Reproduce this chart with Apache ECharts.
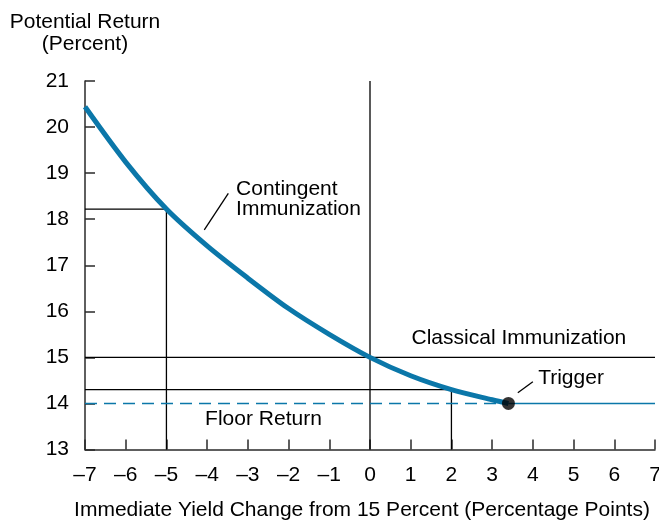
<!DOCTYPE html>
<html>
<head>
<meta charset="utf-8">
<script src="https://cdn.jsdelivr.net/npm/echarts@6/dist/echarts.min.js"></script>
<style>
  html, body { margin: 0; padding: 0; background: #fff; }
  #chart { width: 659px; height: 520px; }
</style>
</head>
<body>
<div id="chart"></div>
<script>
// Potential return vs. immediate yield change (contingent immunization)
const xTicks = [-7, -6, -5, -4, -3, -2, -1, 0, 1, 2, 3, 4, 5, 6, 7];
const yTicks = [13, 14, 15, 16, 17, 18, 19, 20, 21];

// Contingent immunization curve (yield change, return %)
const curveX = [-7, -6, -5, -4, -3, -2, -1, 0, 1, 2, 3, 3.4];
const curveY = [20.44, 19.24, 18.22, 17.42, 16.72, 16.06, 15.5, 15.0, 14.6, 14.3, 14.08, 14.0];

// Key levels
const classicalReturn = 15;
const floorReturn = 14;
const triggerX = 3.4;
const upMoveX = 2, upMoveReturn = 14.3;
const downMoveX = -5, downMoveReturn = 18.22;

const FONT = '"Liberation Sans", Arial, Helvetica, sans-serif';
const BLUE = '#0b77a9';
const INK = '#000';
const AXIS = '#2a2a2a';

const xMin = xTicks[0], xMax = xTicks[xTicks.length - 1];
const yMin = yTicks[0], yMax = yTicks[yTicks.length - 1];

const fmtTick = v => (v < 0 ? '\u2013' + Math.abs(v) : String(v));

function thinLine(name, pts) {
  return {
    name, type: 'line', data: pts, symbol: 'none', silent: true, z: 2,
    lineStyle: { color: INK, width: 1.3 }
  };
}

function note(name, x, y, text) {
  return {
    name, type: 'scatter', data: [[x, y]], symbolSize: 0, silent: true, z: 5,
    itemStyle: { opacity: 1 },
    label: {
      show: true, position: 'right', distance: 0, formatter: text,
      color: INK, fontFamily: FONT, fontSize: 21, lineHeight: 20, align: 'left'
    }
  };
}

const chart = echarts.init(document.getElementById('chart'), null, { renderer: 'canvas' });

chart.setOption({
  animation: false,
  backgroundColor: '#fff',
  grid: {
    left: 85, right: 4, top: 81, bottom: 70.5,
    containLabel: false, outerBoundsMode: 'none'
  },
  xAxis: {
    type: 'value', min: xMin, max: xMax, interval: 1,
    name: 'Immediate Yield Change from 15 Percent (Percentage Points)',
    nameLocation: 'middle', nameGap: 50,
    nameTextStyle: { color: INK, fontFamily: FONT, fontSize: 21, padding: [0, 16, 0, 0] },
    axisLine: { show: true, onZero: false, lineStyle: { color: AXIS, width: 1.5 } },
    axisTick: { show: true, inside: true, length: 10, lineStyle: { color: AXIS, width: 1.5 } },
    axisLabel: { color: INK, fontFamily: FONT, fontSize: 21, margin: 15, formatter: fmtTick },
    splitLine: { show: false }
  },
  yAxis: {
    type: 'value', min: yMin, max: yMax, interval: 1,
    name: 'Potential Return\n(Percent)',
    nameLocation: 'end', nameGap: 26,
    nameTextStyle: { color: INK, fontFamily: FONT, fontSize: 21, lineHeight: 22, align: 'center' },
    axisLine: { show: true, onZero: false, lineStyle: { color: AXIS, width: 1.5 } },
    axisTick: { show: true, inside: true, length: 10, lineStyle: { color: AXIS, width: 1.5 } },
    axisLabel: { color: INK, fontFamily: FONT, fontSize: 21, margin: 16 },
    splitLine: { show: false }
  },
  series: [
    thinLine('down', [[xMin, downMoveReturn], [downMoveX, downMoveReturn], [downMoveX, yMin]]),
    thinLine('zero', [[0, yMin], [0, yMax]]),
    thinLine('classical', [[xMin, classicalReturn], [xMax, classicalReturn]]),
    thinLine('up', [[xMin, upMoveReturn], [upMoveX, upMoveReturn], [upMoveX, yMin]]),
    {
      name: 'floor', type: 'line', symbol: 'none', silent: true, z: 3,
      data: [[xMin, floorReturn], [triggerX, floorReturn]],
      lineStyle: { color: BLUE, width: 1.5, type: [12, 7] }
    },
    {
      name: 'after trigger', type: 'line', symbol: 'none', silent: true, z: 3,
      data: [[triggerX, floorReturn], [xMax, floorReturn]],
      lineStyle: { color: BLUE, width: 1.5 }
    },
    {
      name: 'contingent', type: 'line', symbol: 'none', silent: true, z: 4,
      smooth: 0.3,
      data: curveX.map((x, i) => [x, curveY[i]]),
      lineStyle: { color: BLUE, width: 5 }
    },
    {
      name: 'trigger', type: 'scatter', silent: true, z: 6,
      data: [[triggerX, floorReturn]], symbolSize: 13,
      itemStyle: { color: '#000' }
    },
    thinLine('contingent leader', [[-3.48, 18.56], [-4.07, 17.77]]),
    thinLine('trigger leader', [[4.0, 14.47], [3.63, 14.23]]),
    note('contingent label', -3.29, 18.44, 'Contingent\nImmunization'),
    note('classical label', 1.02, 15.41, 'Classical Immunization'),
    note('trigger label', 4.13, 14.55, 'Trigger'),
    note('floor label', -4.05, 13.66, 'Floor Return')
  ]
});
</script>
</body>
</html>
